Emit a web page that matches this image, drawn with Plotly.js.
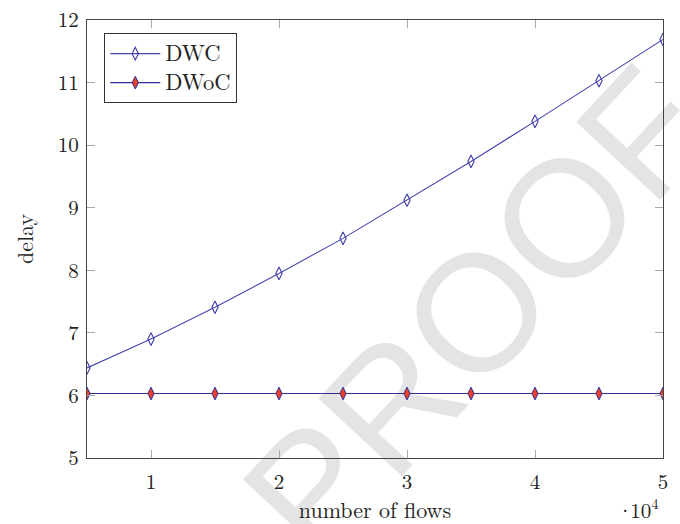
<!DOCTYPE html>
<html>
<head>
<meta charset="utf-8">
<script src="https://cdn.plot.ly/plotly-3.0.1.min.js"></script>
<style>html,body{margin:0;padding:0;background:#fff;}#chart{width:680px;height:524px;}</style>
</head>
<body>
<div id="chart"></div>
<script>
const flows = [5000, 10000, 15000, 20000, 25000, 30000, 35000, 40000, 45000, 50000];
const dwc = [6.44, 6.90, 7.41, 7.95, 8.51, 9.12, 9.74, 10.38, 11.03, 11.69];
const dwoc = [6.03, 6.03, 6.03, 6.03, 6.03, 6.03, 6.03, 6.03, 6.03, 6.03];
const seriesNames = ["DWC", "DWoC"];
const xTickVals = [10000, 20000, 30000, 40000, 50000];
const xTickText = ["1", "2", "3", "4", "5"];
const yTickVals = [5, 6, 7, 8, 9, 10, 11, 12];

const serif = "'Latin Modern Roman', 'Liberation Serif', 'DejaVu Serif', serif";
const big = s => "<span style=\"font-size:22.5px\">" + s + "</span>";

const traces = [
  {
    x: flows, y: dwc, name: big(seriesNames[0]), mode: "lines+markers",
    line: {color: "#4545b0", width: 1.1},
    marker: {symbol: "diamond-tall-open", size: 9, color: "#3a3aa8", line: {color: "#3a3aa8", width: 1.1}}
  },
  {
    x: flows, y: dwoc, name: big(seriesNames[1]), mode: "lines+markers",
    line: {color: "#2e2e94", width: 1.1},
    marker: {symbol: "diamond-tall", size: 9, color: "#e8402a", line: {color: "#2e2e94", width: 1}}
  }
];

const layout = {
  width: 680, height: 524,
  margin: {l: 87, r: 17, t: 20, b: 66},
  paper_bgcolor: "#ffffff",
  plot_bgcolor: "rgba(0,0,0,0)",
  font: {family: serif, size: 21, color: "#222"},
  showlegend: true,
  legend: {
    x: 0.03, y: 0.97, xanchor: "left", yanchor: "top",
    bgcolor: "#ffffff", bordercolor: "#333", borderwidth: 1,
    font: {family: serif, size: 20, color: "#222"},
    itemwidth: 50,
    tracegroupgap: 0
  },
  xaxis: {
    range: [5000, 50000],
    tickmode: "array", tickvals: xTickVals, ticktext: xTickText,
    ticks: "inside", ticklen: 8, tickcolor: "#aaa", tickwidth: 1,
    ticklabelstandoff: 5,
    showline: true, linecolor: "#444", linewidth: 1, mirror: "allticks",
    showgrid: false, zeroline: false,
    tickfont: {family: serif, size: 21, color: "#222"},
    title: {text: "number of flows", font: {family: serif, size: 22, color: "#222"}, standoff: 13}
  },
  yaxis: {
    range: [5, 12],
    tickmode: "array", tickvals: yTickVals,
    ticks: "inside", ticklen: 8, tickcolor: "#aaa", tickwidth: 1,
    ticklabelstandoff: 3,
    showline: true, linecolor: "#444", linewidth: 1, mirror: "allticks",
    showgrid: false, zeroline: false,
    tickfont: {family: serif, size: 21, color: "#222"},
    title: {text: "delay", font: {family: serif, size: 22, color: "#222"}, standoff: 18}
  },
  annotations: [
    {
      text: "PROOF", xref: "paper", yref: "paper",
      x: (476 - 87) / 576, y: 1 - (312 - 20) / 438,
      xanchor: "center", yanchor: "middle",
      textangle: -47, showarrow: false,
      font: {family: "'Liberation Sans', Arial, sans-serif", size: 166, color: "#e4e4e6"}
    },
    {
      text: "<span style=\"letter-spacing:-3px\">·</span>10<sup>4</sup>", xref: "paper", yref: "paper",
      x: 1, y: 0, xanchor: "right", yanchor: "middle", yshift: -50, xshift: -2,
      showarrow: false,
      font: {family: serif, size: 21, color: "#222"}
    }
  ]
};

Plotly.newPlot("chart", traces, layout, {displayModeBar: false, staticPlot: true}).then(function (gd) {
  // put the watermark beneath the data layer
  const ann = gd.querySelector(".annotation");
  const main = gd.querySelector(".main-svg");
  const cart = main.querySelector(".cartesianlayer");
  if (ann && cart) {
    const g = document.createElementNS("http://www.w3.org/2000/svg", "g");
    g.appendChild(ann);
    cart.parentNode.insertBefore(g, cart);
  }
});
</script>
</body>
</html>
